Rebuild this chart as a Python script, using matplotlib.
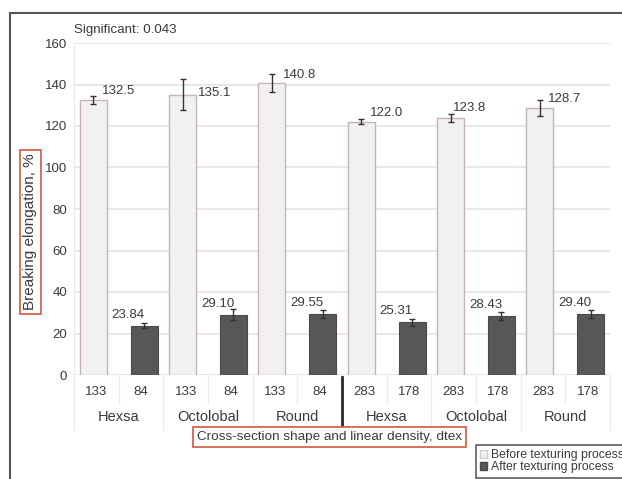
import matplotlib
matplotlib.use("Agg")
import matplotlib.pyplot as plt
from matplotlib.lines import Line2D
from matplotlib.patches import Patch

plt.rcParams['font.family'] = ['Liberation Sans', 'DejaVu Sans']

# ---- data ----
groups = ["Hexsa", "Octolobal", "Round", "Hexsa", "Octolobal", "Round"]
density_before = ["133", "133", "133", "283", "283", "283"]
density_after = ["84", "84", "84", "178", "178", "178"]
before_vals = [132.5, 135.1, 140.8, 122.0, 123.8, 128.7]
before_err = [2.0, 7.5, 4.4, 1.2, 2.0, 3.8]
after_vals = [23.84, 29.10, 29.55, 25.31, 28.43, 29.40]
after_err = [1.2, 2.8, 2.0, 1.9, 1.8, 1.7]
before_labels = ["132.5", "135.1", "140.8", "122.0", "123.8", "128.7"]
after_labels = ["23.84", "29.10", "29.55", "25.31", "28.43", "29.40"]
y_ticks = [0, 20, 40, 60, 80, 100, 120, 140, 160]

# ---- label placement tweaks (pixels) ----
before_dx = [8.5, 15.5, 11.5, 9, 2.5, 8]
before_dy = [9, 2, 8, 9, 10.5, 9]

W, H = 622, 479
fig = plt.figure(figsize=(W / 100, H / 100), dpi=100)
ax = fig.add_axes([74 / W, 1 - 375 / H, (610 - 74) / W, (375 - 43) / H])

txt = '#3a3a3a'
n = len(groups)
xb = [2 * k - 0.07 for k in range(n)]
xa = [2 * k + 1 + 0.07 for k in range(n)]

ax.bar(xb, before_vals, width=0.6, color='#f1f1f1', edgecolor='#c6b4b0', linewidth=1.0, zorder=2)
ax.bar(xa, after_vals, width=0.6, color='#575757', edgecolor='#4a4a4a', linewidth=0.8, zorder=2)
ax.errorbar(xb, before_vals, yerr=before_err, fmt='none', ecolor='#333333', elinewidth=1.0, capsize=2.5, capthick=1.0, zorder=3)
ax.errorbar(xa, after_vals, yerr=after_err, fmt='none', ecolor='#333333', elinewidth=1.0, capsize=2.5, capthick=1.0, zorder=3)

px = 72 / 100  # points per pixel
for k in range(n):
    ax.annotate(before_labels[k], xy=(xb[k], before_vals[k]),
                xytext=(before_dx[k] * px, before_dy[k] * px), textcoords='offset points',
                ha='left', va='center', fontsize=9.5, color=txt)
    ax.annotate(after_labels[k], xy=(xa[k], after_vals[k]),
                xytext=(0.5, 11 * px), textcoords='offset points',
                ha='right', va='center', fontsize=9.5, color=txt)

ax.set_xlim(-0.5, 2 * n - 0.5)
ax.set_ylim(0, 160)
ax.set_yticks(y_ticks)
ax.set_yticklabels([str(v) for v in y_ticks], fontsize=9.5, color=txt)
ax.tick_params(axis='y', length=0, pad=5)
ax.set_xticks([])
ax.grid(axis='y', color='#e4e4e4', linewidth=1.2, zorder=0)
ax.set_axisbelow(True)
for s in ['top', 'right', 'bottom']:
    ax.spines[s].set_visible(False)
ax.spines['left'].set_color('#e8e8e8')

# category axis (two levels)
tr = ax.get_xaxis_transform()
ax_h = 375 - 43
def ay(ypix):
    return (375 - ypix) / ax_h

for k in range(n):
    ax.text(2 * k, ay(392), density_before[k], transform=tr, ha='center', va='center', fontsize=9.5, color=txt)
    ax.text(2 * k + 1, ay(392), density_after[k], transform=tr, ha='center', va='center', fontsize=9.5, color=txt)
    ax.text(2 * k + 0.5, ay(417), groups[k], transform=tr, ha='center', va='center', fontsize=10.5, color=txt)

for i in range(2 * n + 1):
    x = i - 0.5
    if i % 2 == 0:
        ax.add_line(Line2D([x, x], [0, ay(430)], transform=tr, color='#ececec', lw=1.0, clip_on=False))
    else:
        ax.add_line(Line2D([x, x], [0, ay(404)], transform=tr, color='#ececec', lw=1.0, clip_on=False))
# thick separator between the two density sets
ax.add_line(Line2D([5.5, 5.5], [ay(377), ay(425)], transform=tr, color='#2a2a2a', lw=2.0, clip_on=False))

# axis titles in boxes
fig.text(30.5 / W, 1 - 232 / H, "Breaking elongation, %", rotation=90, ha='center', va='center',
         fontsize=11, color=txt,
         bbox=dict(boxstyle='square,pad=0.25', facecolor='white', edgecolor='#d4654f', linewidth=1.3))
fig.text(329.5 / W, 1 - 437 / H, "Cross-section shape and linear density, dtex", ha='center', va='center',
         fontsize=9.7, color=txt,
         bbox=dict(boxstyle='square,pad=0.3', facecolor='white', edgecolor='#d4654f', linewidth=1.3))

fig.text(74 / W, 1 - 30 / H, "Significant: 0.043", ha='left', va='center', fontsize=9.6, color=txt)

# legend
handles = [Patch(facecolor='#f1f1f1', edgecolor='#d0d0d0', label='Before texturing process'),
           Patch(facecolor='#575757', edgecolor='#4a4a4a', label='After texturing process')]
leg = fig.legend(handles=handles, loc='upper left', bbox_to_anchor=(476 / W, 1 - 445 / H),
                 fontsize=8.8, frameon=True, fancybox=False, handlelength=0.55, handleheight=0.55,
                 handletextpad=0.3, borderpad=0.35, labelspacing=0.0, borderaxespad=0)
leg.get_frame().set_edgecolor('#333333')
leg.get_frame().set_linewidth(1.2)
for t in leg.get_texts():
    t.set_color(txt)

# outer frame (top & left visible)
fig.add_artist(Line2D([10 / W, 1.0], [1 - 13 / H, 1 - 13 / H], transform=fig.transFigure, color='#555555', lw=1.5))
fig.add_artist(Line2D([10 / W, 10 / W], [0, 1 - 13 / H], transform=fig.transFigure, color='#555555', lw=1.5))

fig.savefig("out.png", dpi=100)
